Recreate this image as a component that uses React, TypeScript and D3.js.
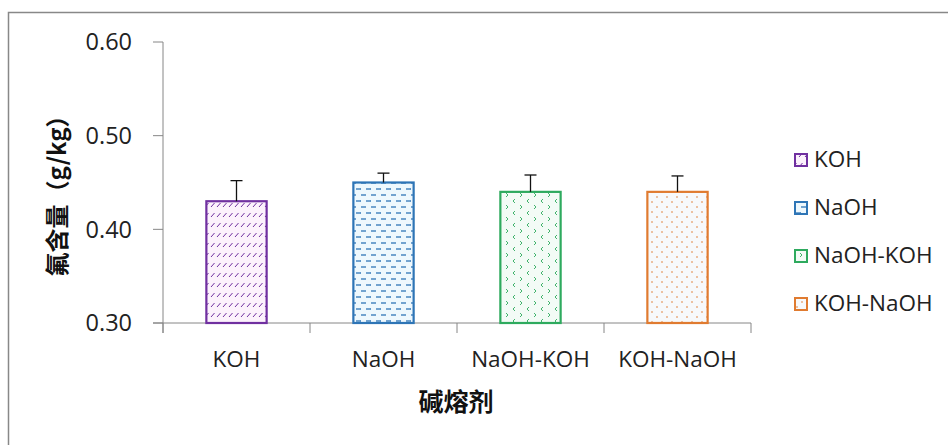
import React from "react";
import * as d3 from "d3";

const categories = ["KOH", "NaOH", "NaOH-KOH", "KOH-NaOH"];
const values = [0.43, 0.45, 0.44, 0.44];
const errors = [0.022, 0.01, 0.018, 0.017];
const yTicks = [0.3, 0.4, 0.5, 0.6];
const colors = ["#7030A0", "#2E75B6", "#2EAA5E", "#E07B30"];
const bgColors = ["#fcf2fc", "#eef8fd", "#f3fbf6", "#f7f9fb"];
const yTitle = "氟含量（g/kg）";
const xTitle = "碱熔剂";

const W = 948;
const H = 445;
const left = 163;
const right = 751;
const top = 42;
const bottom = 323;
const latin = "'Open Sans', 'Noto Sans', sans-serif";
const cjk = "'Noto Sans CJK SC', sans-serif";

function Patterns() {
  return (
    <defs>
      <pattern id="p0" width="6" height="10" patternUnits="userSpaceOnUse">
        <rect width="6" height="10" fill={bgColors[0]} />
        <line x1="1" y1="7" x2="4.5" y2="3" stroke={colors[0]} strokeWidth="1" />
      </pattern>
      <pattern id="p1" width="10" height="12" patternUnits="userSpaceOnUse">
        <rect width="10" height="12" fill={bgColors[1]} />
        <line x1="1" y1="3" x2="6" y2="3" stroke={colors[1]} strokeWidth="1.3" />
        <line x1="6" y1="9" x2="10" y2="9" stroke={colors[1]} strokeWidth="1.3" />
        <line x1="0" y1="9" x2="1" y2="9" stroke={colors[1]} strokeWidth="1.3" />
      </pattern>
      <pattern id="p2" width="14" height="12" patternUnits="userSpaceOnUse">
        <rect width="14" height="12" fill={bgColors[2]} />
        <polyline points="2,1 4,3 2,5" fill="none" stroke={colors[2]} strokeWidth="0.9" />
        <polyline points="11,7 9,9 11,11" fill="none" stroke={colors[2]} strokeWidth="0.9" />
      </pattern>
      <pattern id="p3" width="10" height="10" patternUnits="userSpaceOnUse">
        <rect width="10" height="10" fill={bgColors[3]} />
        <circle cx="2" cy="2" r="0.8" fill={colors[3]} />
        <circle cx="7" cy="7" r="0.8" fill={colors[3]} />
      </pattern>
    </defs>
  );
}

export default function App() {
  const x = d3
    .scaleBand<string>()
    .domain(categories)
    .range([left, right])
    .paddingInner(0.59)
    .paddingOuter(0.295);
  const y = d3.scaleLinear().domain([0.3, 0.6]).range([bottom, top]);
  const step = x.step();
  const bw = x.bandwidth();
  const axisColor = "#868686";

  return (
    <svg
      width={W}
      height={H}
      style={{ position: "absolute", left: 0, top: 0, display: "block", background: "#fff" }}
    >
      <Patterns />
      <rect x={8.5} y={12.5} width={1000} height={600} fill="#fff" stroke="#888" strokeWidth={1.5} />

      <line x1={left} x2={left} y1={y(0.6)} y2={bottom + 10} stroke={axisColor} strokeWidth={1} />
      {yTicks.map((t) => (
        <g key={t}>
          <line x1={left - 10} x2={left} y1={y(t)} y2={y(t)} stroke={axisColor} strokeWidth={1} />
          <text
            x={132}
            y={y(t)}
            dy="0.36em"
            textAnchor="end"
            fontFamily={latin}
            fontSize={23.5}
            fill="#222"
          >
            {t.toFixed(2)}
          </text>
        </g>
      ))}

      <line x1={left - 10} x2={right} y1={bottom} y2={bottom} stroke={axisColor} strokeWidth={1} />
      {d3.range(categories.length + 1).map((i) => (
        <line
          key={i}
          x1={left + i * step}
          x2={left + i * step}
          y1={bottom}
          y2={bottom + 10}
          stroke={axisColor}
          strokeWidth={1}
        />
      ))}
      {categories.map((c) => (
        <text
          key={c}
          x={(x(c) as number) + bw / 2}
          y={367}
          textAnchor="middle"
          fontFamily={latin}
          fontSize={22.5}
          fill="#222"
        >
          {c}
        </text>
      ))}

      {categories.map((c, i) => {
        const x0 = x(c) as number;
        const cx = x0 + bw / 2;
        return (
          <g key={c}>
            <rect
              x={x0}
              y={y(values[i])}
              width={bw}
              height={bottom - y(values[i])}
              fill={`url(#p${i})`}
              stroke={colors[i]}
              strokeWidth={2.2}
            />
            <line x1={cx} x2={cx} y1={y(values[i])} y2={y(values[i] + errors[i])} stroke="#111" strokeWidth={1.3} />
            <line
              x1={cx - 6}
              x2={cx + 6}
              y1={y(values[i] + errors[i])}
              y2={y(values[i] + errors[i])}
              stroke="#111"
              strokeWidth={1.3}
            />
          </g>
        );
      })}

      <text
        transform={`translate(66,190) rotate(-90)`}
        textAnchor="middle"
        fontFamily={cjk}
        fontWeight="bold"
        fontSize={24}
        fill="#111"
      >
        {yTitle}
      </text>
      <text
        x={456}
        y={411}
        textAnchor="middle"
        fontFamily={cjk}
        fontWeight="bold"
        fontSize={25}
        fill="#111"
      >
        {xTitle}
      </text>

      {categories.map((c, i) => {
        const by = 167 + i * 48;
        return (
          <g key={c}>
            <rect x={795} y={by - 13} width={12} height={12} fill={`url(#p${i})`} stroke={colors[i]} strokeWidth={2} />
            <text x={814} y={by} fontFamily={latin} fontSize={22.5} fill="#222">
              {c}
            </text>
          </g>
        );
      })}
    </svg>
  );
}
